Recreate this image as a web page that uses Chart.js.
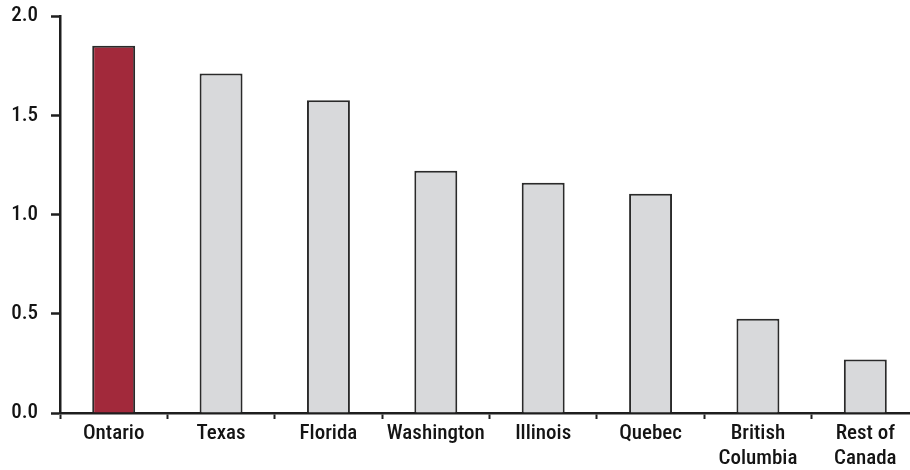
<!DOCTYPE html>
<html>
<head>
<meta charset="utf-8">
<script src="https://cdn.jsdelivr.net/npm/chart.js@4/dist/chart.umd.min.js"></script>
<style>
  html, body { margin: 0; padding: 0; background: #fff; overflow: hidden; }
  canvas { display: block; }
</style>
</head>
<body>
<canvas id="chart" width="920" height="470"></canvas>
<script>
// Regions compared
const categories = ['Ontario', 'Texas', 'Florida', 'Washington', 'Illinois', 'Quebec', ['British', 'Columbia'], ['Rest of', 'Canada']];
const values = [1.85, 1.71, 1.575, 1.22, 1.16, 1.105, 0.475, 0.27];
const yTicks = [0, 0.5, 1.0, 1.5, 2.0];

// Highlight the first region, others in neutral grey
const barColors = values.map((v, i) => i === 0 ? '#A2293B' : '#D8D9DB');

const fontFamily = '"Roboto Condensed", Roboto, "Liberation Sans", Arial, sans-serif';
const axisColor = '#1e1e1e';
const textColor = '#141414';

new Chart(document.getElementById('chart'), {
  type: 'bar',
  data: {
    labels: categories,
    datasets: [{
      data: values,
      backgroundColor: barColors,
      borderColor: '#2a2a2a',
      borderWidth: 2,
      barPercentage: 0.4,
      categoryPercentage: 1.0
    }]
  },
  options: {
    responsive: false,
    animation: false,
    layout: { padding: { top: 16, right: 1, left: 0, bottom: 0 } },
    plugins: {
      legend: { display: false },
      tooltip: { enabled: false }
    },
    scales: {
      x: {
        offset: true,
        grid: {
          offset: true,
          drawOnChartArea: false,
          drawTicks: true,
          tickLength: 6,
          tickWidth: 2,
          tickColor: axisColor
        },
        border: { display: true, color: axisColor, width: 2.5 },
        ticks: {
          color: textColor,
          padding: 2,
          maxRotation: 0,
          autoSkip: false,
          font: { family: fontFamily, size: 21, weight: 500, lineHeight: 1.19 }
        },
        afterFit: (scale) => {
          scale.height = 57;
          scale.paddingLeft = 0;
          scale.paddingRight = 0;
        }
      },
      y: {
        min: 0,
        max: 2.0,
        afterBuildTicks: (scale) => { scale.ticks = yTicks.map(v => ({ value: v })); },
        grid: {
          drawOnChartArea: false,
          drawTicks: true,
          tickLength: 9,
          tickWidth: 2.5,
          tickColor: axisColor
        },
        border: { display: true, color: axisColor, width: 2.5 },
        ticks: {
          color: textColor,
          padding: 13,
          callback: (v) => Number(v).toFixed(1),
          font: { family: fontFamily, size: 21, weight: 500 }
        },
        afterFit: (scale) => {
          scale.width = 60;
          scale.paddingTop = 0;
          scale.paddingBottom = 0;
        }
      }
    }
  }
});
</script>
</body>
</html>
